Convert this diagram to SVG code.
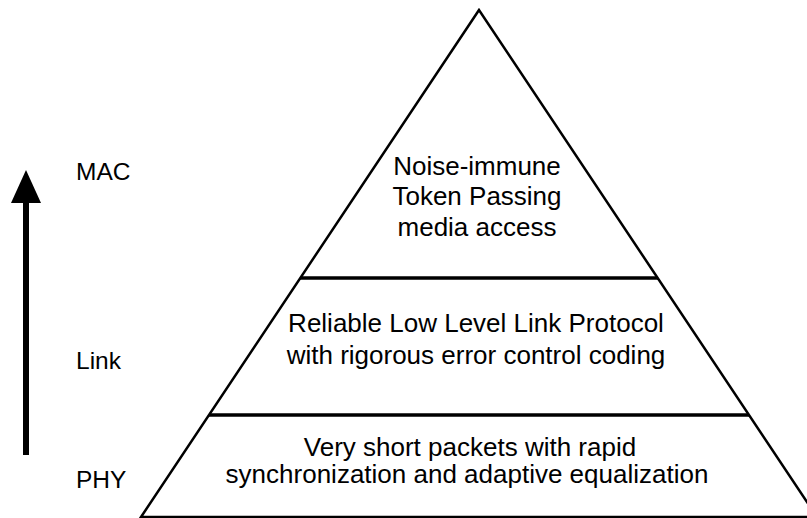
<svg xmlns="http://www.w3.org/2000/svg" width="807" height="518" viewBox="0 0 807 518">
<style>
text{font-family:"Liberation Sans",Arial,sans-serif;font-size:26px;fill:#000}
.c{text-anchor:middle}
.lbl{font-size:24.5px}
.side{fill:none;stroke:#000;stroke-width:2.5}
.div{stroke:#000;stroke-width:3.5}
</style>
<rect width="807" height="518" fill="#fff"/>
<g id="pyramid">
<polygon class="side" points="479,10 141,517 817,517"/>
</g>
<g id="connectors">
<line class="div" x1="300" y1="278" x2="658" y2="278"/>
<line class="div" x1="209" y1="415" x2="749" y2="415"/>
<line x1="26" y1="455" x2="26" y2="200" stroke="#000" stroke-width="6"/>
<polygon points="26,170 11,203 41,203" fill="#000"/>
</g>
<g id="mac">
<text class="c" x="477" y="175">Noise-immune</text>
<text class="c" x="477" y="205">Token Passing</text>
<text class="c" x="477" y="236">media access</text>
</g>
<g id="link">
<text class="c" x="476" y="332">Reliable Low Level Link Protocol</text>
<text class="c" x="476" y="364">with rigorous error control coding</text>
</g>
<g id="phy">
<text class="c" x="470" y="456">Very short packets with rapid</text>
<text class="c" x="467" y="483">synchronization and adaptive equalization</text>
</g>
<g id="labels">
<text class="lbl" x="76" y="180">MAC</text>
<text class="lbl" x="76" y="369">Link</text>
<text class="lbl" x="76" y="488">PHY</text>
</g>
</svg>
